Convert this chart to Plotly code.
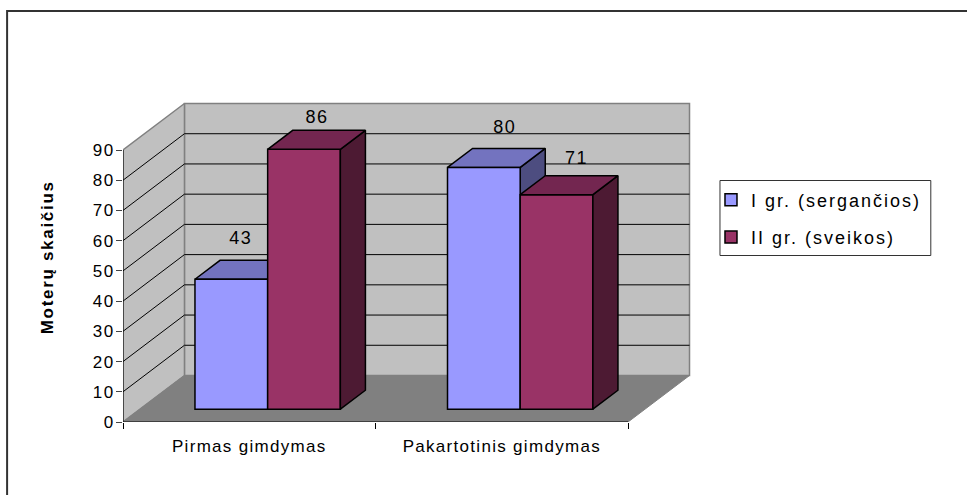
import plotly.graph_objects as go

categories = ["Pirmas gimdymas", "Pakartotinis gimdymas"]
series_names = ["I gr. (sergančios)", "II gr. (sveikos)"]
group1_values = [43, 80]
group2_values = [86, 71]
y_ticks = [0, 10, 20, 30, 40, 50, 60, 70, 80, 90]
y_title = "Moterų skaičius"

W, H = 967, 495
L, R, T, B = 123, 628.5, 150, 422
XU = (R - L) / 2
YU = (B - T) / 90
DEPTH_X = 61.5 / XU
DEPTH_Y = 46.5 / YU
BAR_W = 72.75 / XU
BAR_SHIFT = 1.5 / XU
D0, D1 = 0.275, 0.683
FONT = "Liberation Sans"
PAD_R, PAD_T = 70, 55  # extra plot area holding the receding walls

C1 = ("#9999FF", "#7373BF", "#4D4D80")
C2 = ("#993366", "#732650", "#4D1A33")


def P(x, y, d):
    return x + DEPTH_X * d, y + DEPTH_Y * d


def poly(pts, fill, line, width, axes=("x", "y")):
    xs = [p[0] for p in pts] + [pts[0][0]]
    ys = [p[1] for p in pts] + [pts[0][1]]
    return go.Scatter(x=xs, y=ys, mode="lines", fill="toself", fillcolor=fill,
                      line=dict(color=line, width=width), showlegend=False, hoverinfo="skip",
                      cliponaxis=False, xaxis=axes[0], yaxis=axes[1])


def seg(a, b, color, width):
    return go.Scatter(x=[a[0], b[0]], y=[a[1], b[1]], mode="lines", line=dict(color=color, width=width),
                      showlegend=False, hoverinfo="skip", cliponaxis=False, xaxis="x", yaxis="y")


def bar_side(x0, v, colors, axes):
    x1 = x0 + BAR_W
    side = [P(x1, 0, D0), P(x1, 0, D1), P(x1, v, D1), P(x1, v, D0)]
    top = [P(x0, v, D0), P(x0, v, D1), P(x1, v, D1), P(x1, v, D0)]
    return [poly(side, colors[2], "#000000", 1.5, axes), poly(top, colors[1], "#000000", 1.5, axes)]


fig = go.Figure()
top = y_ticks[-1]
fig.add_trace(poly([P(0, 0, 1), P(2, 0, 1), P(2, top, 1), P(0, top, 1)], "#C0C0C0", "#808080", 1.5))
fig.add_trace(poly([P(0, 0, 0), P(0, 0, 1), P(0, top, 1), P(0, top, 0)], "#C0C0C0", "#808080", 1.5))
fig.add_trace(poly([P(0, 0, 0), P(2, 0, 0), P(2, 0, 1), P(0, 0, 1)], "#808080", "#808080", 1))
for t in y_ticks[1:-1]:
    fig.add_trace(seg(P(0, t, 0), P(0, t, 1), "#000000", 1))
    fig.add_trace(seg(P(0, t, 1), P(2, t, 1), "#000000", 1))
fig.add_trace(seg(P(0, 0, 0), P(2, 0, 0), "#000000", 1))
fig.add_trace(seg(P(0, 0, 0), P(0, top, 0), "#000000", 1))


def centre(i):
    return i + 0.5 + BAR_SHIFT


for i, v in enumerate(group1_values):
    fig.add_traces(bar_side(centre(i) - BAR_W, v, C1, ("x", "y")))

bar_off = P(0, 0, D0)
for name, vals, c, sgn in ((series_names[0], group1_values, C1, -0.5), (series_names[1], group2_values, C2, 0.5)):
    fig.add_trace(go.Bar(name=name, x=[centre(i) + sgn * BAR_W + bar_off[0] for i in range(2)], y=vals,
                         base=bar_off[1], width=BAR_W, cliponaxis=False,
                         marker=dict(color=c[0], line=dict(color="#000000", width=1.5)),
                         xaxis="x2", yaxis="y2", legendgroup=name, hoverinfo="skip"))
for i, v in enumerate(group2_values):
    fig.add_traces(bar_side(centre(i), v, C2, ("x2", "y2")))

label_dx = {(0, 0): 9.5, (1, 0): 13, (0, 1): 21, (1, 1): 20}
label_dy = {(0, 0): 40, (1, 0): 31, (0, 1): 39, (1, 1): 35}
for s, (vals, sgn) in enumerate(((group1_values, -0.5), (group2_values, 0.5))):
    lx, ly, lt = [], [], []
    for i, v in enumerate(vals):
        fx, fy = P(centre(i) + sgn * BAR_W, v, D0)
        lx.append(fx + label_dx[(s, i)] / XU)
        ly.append(fy + label_dy[(s, i)] / YU)
        lt.append(str(v))
    fig.add_trace(go.Scatter(x=lx, y=ly, text=lt, mode="text", textposition="middle center",
                             textfont=dict(family=FONT, size=18, color="#000000"), showlegend=False,
                             hoverinfo="skip", cliponaxis=False, xaxis="x2", yaxis="y2"))

PW = R - L + PAD_R
PH = B - T + PAD_T
x_range = [0, PW / XU]
y_range = [0, PH / YU]


def px_x(p):
    return (p - L) / PW


def px_y(p):
    return (B - p) / PH


shapes = [
    dict(type="rect", xref="paper", yref="paper", x0=px_x(7), x1=px_x(980), y0=px_y(11), y1=px_y(510),
         line=dict(color="#333333", width=2), layer="below"),
    dict(type="rect", xref="paper", yref="paper", x0=px_x(720.5), x1=px_x(931.5), y0=px_y(180.5), y1=px_y(255.5),
         line=dict(color="#333333", width=1), fillcolor="#FFFFFF", layer="below"),
]

fig.update_layout(
    width=W, height=H, margin=dict(l=L, r=W - L - PW, t=B - PH, b=H - B), autosize=False,
    paper_bgcolor="#FFFFFF", plot_bgcolor="rgba(0,0,0,0)", barmode="overlay", shapes=shapes,
    font=dict(family=FONT, size=16, color="#000000"),
    xaxis=dict(range=x_range, tickmode="array", tickvals=[0.5, 1.5], ticktext=categories, ticks="", showgrid=False,
               zeroline=False, showline=False, tickfont=dict(family=FONT, size=17), ticklabelstandoff=12,
               minor=dict(tickmode="array", tickvals=[0, 1, 2], ticks="outside", ticklen=6, tickcolor="#000000", tickwidth=1, showgrid=False)),
    yaxis=dict(range=y_range, tickmode="array", tickvals=y_ticks, ticks="outside", ticklen=6, tickcolor="#444444",
               showgrid=False, zeroline=False, showline=False, tickfont=dict(family=FONT, size=17), ticklabelstandoff=-2),
    xaxis2=dict(range=x_range, overlaying="x", visible=False),
    yaxis2=dict(range=y_range, overlaying="y", visible=False),
    legend=dict(x=px_x(711.5), y=px_y(181.5), xanchor="left", yanchor="top", bgcolor="rgba(0,0,0,0)", borderwidth=0,
                traceorder="grouped", tracegroupgap=11, font=dict(family=FONT, size=18)),
    annotations=[dict(text="<b>" + y_title + "</b>", textangle=-90, xref="paper", yref="paper",
                      x=px_x(47), y=px_y(257.5), showarrow=False, xanchor="center", yanchor="middle",
                      font=dict(family=FONT, size=17, color="#000000"))],
)
css = (".xtick text{letter-spacing:1.3px}.ytick text{letter-spacing:1.5px}.legendtext{letter-spacing:2px}"
       ".annotation-text{letter-spacing:1.7px}.textpoint text{letter-spacing:1.5px}"
       ".legend .scrollbox{clip-path:none !important}")
post = ("document.body.style.margin='0';var s=document.createElement('style');s.textContent='%s';"
        "document.head.appendChild(s);" % css)
fig.write_html("out.html", post_script=post, config=dict(displayModeBar=False))
